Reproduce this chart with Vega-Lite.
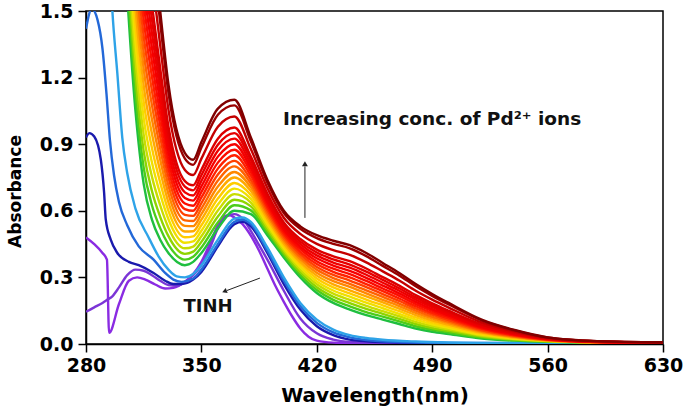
{
"$schema": "https://vega.github.io/schema/vega-lite/v6.json",
"width": 577, "height": 333,
"autosize": {"type": "none"},
"padding": {"left": 86, "top": 11, "right": 22, "bottom": 68},
"background": "white",
"config": {
 "view": {"stroke": "black", "strokeWidth": 1.5},
 "axis": {"grid": false, "domainColor": "black", "domainWidth": 1.5, "tickColor": "black", "tickWidth": 1.5, "tickSize": 8, "labelFlush": false, "labelOverlap": false,
  "labelFont": "DejaVu Sans", "labelFontWeight": "bold", "labelFontSize": 19, "labelColor": "black",
  "titleFont": "DejaVu Sans", "titleFontWeight": "bold", "titleColor": "black"}
},
"encoding": {
 "x": {"field": "x", "type": "quantitative", "scale": {"domain": [280, 630], "nice": false, "zero": false},
  "axis": {"title": "Wavelength(nm)", "values": [280, 350, 420, 490, 560, 630], "format": "d", "labelPadding": 4, "titleFontSize": 20, "titlePadding": 10}},
 "y": {"field": "y", "type": "quantitative", "scale": {"domain": [0, 1.5], "nice": false},
  "axis": {"title": "Absorbance", "values": [0, 0.3, 0.6, 0.9, 1.2, 1.5], "format": ".1f", "labelPadding": 5, "titleFontSize": 17, "titleX": -71, "titleY": 180, "titleAngle": 270, "titleAlign": "center", "titleBaseline": "middle"}}
},
"layer": [
{
 "data": {"values": [
{"s":"a1","x":280,"y":0.48},{"s":"a1","x":285,"y":0.45},{"s":"a1","x":290,"y":0.41},{"s":"a1","x":292.7,"y":0.38},{"s":"a1","x":294,"y":0.05},{"s":"a1","x":300,"y":0.18},{"s":"a1","x":306,"y":0.285},{"s":"a1","x":311,"y":0.3},{"s":"a1","x":316,"y":0.29},{"s":"a1","x":322,"y":0.268},{"s":"a1","x":328,"y":0.25},{"s":"a1","x":333,"y":0.253},{"s":"a1","x":340,"y":0.28},{"s":"a1","x":345,"y":0.315},{"s":"a1","x":350,"y":0.37},{"s":"a1","x":355,"y":0.45},{"s":"a1","x":360,"y":0.535},{"s":"a1","x":364,"y":0.575},{"s":"a1","x":367,"y":0.58},{"s":"a1","x":370,"y":0.57},{"s":"a1","x":375,"y":0.54},{"s":"a1","x":379,"y":0.5},{"s":"a1","x":385,"y":0.42},{"s":"a1","x":390,"y":0.34},{"s":"a1","x":395,"y":0.26},{"s":"a1","x":400,"y":0.19},{"s":"a1","x":405,"y":0.125},{"s":"a1","x":410,"y":0.07},{"s":"a1","x":415,"y":0.033},{"s":"a1","x":420,"y":0.015},{"s":"a1","x":430,"y":0.006},{"s":"a1","x":450,"y":0.003},{"s":"a1","x":630,"y":0.002},
{"s":"a2","x":280,"y":0.145},{"s":"a2","x":285,"y":0.165},{"s":"a2","x":290,"y":0.185},{"s":"a2","x":293,"y":0.2},{"s":"a2","x":296,"y":0.215},{"s":"a2","x":300,"y":0.255},{"s":"a2","x":305,"y":0.31},{"s":"a2","x":310,"y":0.335},{"s":"a2","x":315,"y":0.33},{"s":"a2","x":320,"y":0.31},{"s":"a2","x":325,"y":0.285},{"s":"a2","x":330,"y":0.265},{"s":"a2","x":335,"y":0.262},{"s":"a2","x":340,"y":0.28},{"s":"a2","x":345,"y":0.31},{"s":"a2","x":350,"y":0.355},{"s":"a2","x":355,"y":0.43},{"s":"a2","x":360,"y":0.52},{"s":"a2","x":365,"y":0.575},{"s":"a2","x":370,"y":0.585},{"s":"a2","x":375,"y":0.565},{"s":"a2","x":380,"y":0.51},{"s":"a2","x":385,"y":0.445},{"s":"a2","x":390,"y":0.38},{"s":"a2","x":400,"y":0.24},{"s":"a2","x":410,"y":0.115},{"s":"a2","x":420,"y":0.048},{"s":"a2","x":430,"y":0.02},{"s":"a2","x":440,"y":0.009},{"s":"a2","x":460,"y":0.004},{"s":"a2","x":630,"y":0.002},
{"s":"a3","x":280,"y":0.93},{"s":"a3","x":282,"y":0.95},{"s":"a3","x":285,"y":0.935},{"s":"a3","x":289,"y":0.83},{"s":"a3","x":291,"y":0.68},{"s":"a3","x":292,"y":0.56},{"s":"a3","x":295,"y":0.47},{"s":"a3","x":299,"y":0.41},{"s":"a3","x":306,"y":0.37},{"s":"a3","x":312,"y":0.355},{"s":"a3","x":321,"y":0.32},{"s":"a3","x":328,"y":0.285},{"s":"a3","x":333,"y":0.27},{"s":"a3","x":338,"y":0.27},{"s":"a3","x":345,"y":0.29},{"s":"a3","x":350,"y":0.325},{"s":"a3","x":360,"y":0.44},{"s":"a3","x":370,"y":0.54},{"s":"a3","x":375,"y":0.55},{"s":"a3","x":380,"y":0.53},{"s":"a3","x":390,"y":0.41},{"s":"a3","x":400,"y":0.27},{"s":"a3","x":410,"y":0.155},{"s":"a3","x":420,"y":0.08},{"s":"a3","x":430,"y":0.04},{"s":"a3","x":440,"y":0.02},{"s":"a3","x":450,"y":0.012},{"s":"a3","x":470,"y":0.006},{"s":"a3","x":500,"y":0.004},{"s":"a3","x":630,"y":0.002},
{"s":"a4","x":280,"y":1.42},{"s":"a4","x":283.5,"y":1.51},{"s":"a4","x":287,"y":1.46},{"s":"a4","x":290,"y":1.33},{"s":"a4","x":292.5,"y":1.12},{"s":"a4","x":294.5,"y":0.92},{"s":"a4","x":297,"y":0.76},{"s":"a4","x":300,"y":0.64},{"s":"a4","x":305,"y":0.535},{"s":"a4","x":312,"y":0.44},{"s":"a4","x":321,"y":0.38},{"s":"a4","x":328,"y":0.32},{"s":"a4","x":333,"y":0.29},{"s":"a4","x":338,"y":0.28},{"s":"a4","x":345,"y":0.295},{"s":"a4","x":350,"y":0.335},{"s":"a4","x":360,"y":0.45},{"s":"a4","x":370,"y":0.55},{"s":"a4","x":375,"y":0.56},{"s":"a4","x":380,"y":0.54},{"s":"a4","x":390,"y":0.42},{"s":"a4","x":400,"y":0.285},{"s":"a4","x":410,"y":0.17},{"s":"a4","x":420,"y":0.095},{"s":"a4","x":430,"y":0.052},{"s":"a4","x":440,"y":0.03},{"s":"a4","x":450,"y":0.018},{"s":"a4","x":470,"y":0.009},{"s":"a4","x":500,"y":0.005},{"s":"a4","x":630,"y":0.003},
{"s":"a5","x":290,"y":2.6},{"s":"a5","x":296,"y":1.5},{"s":"a5","x":299,"y":1.22},{"s":"a5","x":302,"y":0.93},{"s":"a5","x":305,"y":0.77},{"s":"a5","x":310,"y":0.61},{"s":"a5","x":318,"y":0.48},{"s":"a5","x":324,"y":0.395},{"s":"a5","x":330,"y":0.335},{"s":"a5","x":335,"y":0.305},{"s":"a5","x":340,"y":0.3},{"s":"a5","x":345,"y":0.315},{"s":"a5","x":350,"y":0.355},{"s":"a5","x":360,"y":0.47},{"s":"a5","x":370,"y":0.565},{"s":"a5","x":375,"y":0.57},{"s":"a5","x":380,"y":0.55},{"s":"a5","x":390,"y":0.435},{"s":"a5","x":400,"y":0.3},{"s":"a5","x":410,"y":0.185},{"s":"a5","x":420,"y":0.11},{"s":"a5","x":430,"y":0.065},{"s":"a5","x":440,"y":0.04},{"s":"a5","x":450,"y":0.027},{"s":"a5","x":460,"y":0.019},{"s":"a5","x":480,"y":0.011},{"s":"a5","x":500,"y":0.007},{"s":"a5","x":540,"y":0.004},{"s":"a5","x":630,"y":0.003},
{"s":"f00","x":300,"y":2.2},{"s":"f00","x":310,"y":1.05},{"s":"f00","x":315,"y":0.72},{"s":"f00","x":320,"y":0.56},{"s":"f00","x":325,"y":0.47},{"s":"f00","x":330,"y":0.41},{"s":"f00","x":340,"y":0.355},{"s":"f00","x":345,"y":0.37},{"s":"f00","x":350,"y":0.41},{"s":"f00","x":360,"y":0.52},{"s":"f00","x":370,"y":0.6},{"s":"f00","x":380,"y":0.585},{"s":"f00","x":390,"y":0.49},{"s":"f00","x":400,"y":0.39},{"s":"f00","x":410,"y":0.3},{"s":"f00","x":420,"y":0.23},{"s":"f00","x":430,"y":0.185},{"s":"f00","x":440,"y":0.155},{"s":"f00","x":450,"y":0.13},{"s":"f00","x":460,"y":0.11},{"s":"f00","x":470,"y":0.09},{"s":"f00","x":480,"y":0.07},{"s":"f00","x":490,"y":0.055},{"s":"f00","x":500,"y":0.045},{"s":"f00","x":520,"y":0.025},{"s":"f00","x":540,"y":0.015},{"s":"f00","x":560,"y":0.01},{"s":"f00","x":590,"y":0.006},{"s":"f00","x":630,"y":0.005},
{"s":"f01","x":300,"y":2.29},{"s":"f01","x":310,"y":1.128},{"s":"f01","x":315,"y":0.794},{"s":"f01","x":320,"y":0.625},{"s":"f01","x":325,"y":0.522},{"s":"f01","x":330,"y":0.448},{"s":"f01","x":340,"y":0.38},{"s":"f01","x":345,"y":0.393},{"s":"f01","x":350,"y":0.435},{"s":"f01","x":360,"y":0.547},{"s":"f01","x":370,"y":0.625},{"s":"f01","x":380,"y":0.602},{"s":"f01","x":390,"y":0.503},{"s":"f01","x":400,"y":0.401},{"s":"f01","x":410,"y":0.312},{"s":"f01","x":420,"y":0.243},{"s":"f01","x":430,"y":0.199},{"s":"f01","x":440,"y":0.17},{"s":"f01","x":450,"y":0.144},{"s":"f01","x":460,"y":0.123},{"s":"f01","x":470,"y":0.102},{"s":"f01","x":480,"y":0.08},{"s":"f01","x":490,"y":0.064},{"s":"f01","x":500,"y":0.052},{"s":"f01","x":520,"y":0.029},{"s":"f01","x":540,"y":0.017},{"s":"f01","x":560,"y":0.011},{"s":"f01","x":590,"y":0.007},{"s":"f01","x":630,"y":0.005},
{"s":"f02","x":300,"y":2.38},{"s":"f02","x":310,"y":1.205},{"s":"f02","x":315,"y":0.868},{"s":"f02","x":320,"y":0.689},{"s":"f02","x":325,"y":0.573},{"s":"f02","x":330,"y":0.486},{"s":"f02","x":340,"y":0.406},{"s":"f02","x":345,"y":0.416},{"s":"f02","x":350,"y":0.46},{"s":"f02","x":360,"y":0.574},{"s":"f02","x":370,"y":0.65},{"s":"f02","x":380,"y":0.62},{"s":"f02","x":390,"y":0.515},{"s":"f02","x":400,"y":0.411},{"s":"f02","x":410,"y":0.323},{"s":"f02","x":420,"y":0.256},{"s":"f02","x":430,"y":0.213},{"s":"f02","x":440,"y":0.184},{"s":"f02","x":450,"y":0.158},{"s":"f02","x":460,"y":0.136},{"s":"f02","x":470,"y":0.113},{"s":"f02","x":480,"y":0.09},{"s":"f02","x":490,"y":0.072},{"s":"f02","x":500,"y":0.059},{"s":"f02","x":520,"y":0.034},{"s":"f02","x":540,"y":0.02},{"s":"f02","x":560,"y":0.012},{"s":"f02","x":590,"y":0.007},{"s":"f02","x":630,"y":0.005},
{"s":"f03","x":300,"y":2.47},{"s":"f03","x":310,"y":1.283},{"s":"f03","x":315,"y":0.942},{"s":"f03","x":320,"y":0.754},{"s":"f03","x":325,"y":0.625},{"s":"f03","x":330,"y":0.524},{"s":"f03","x":340,"y":0.431},{"s":"f03","x":345,"y":0.439},{"s":"f03","x":350,"y":0.485},{"s":"f03","x":360,"y":0.601},{"s":"f03","x":370,"y":0.675},{"s":"f03","x":380,"y":0.637},{"s":"f03","x":390,"y":0.528},{"s":"f03","x":400,"y":0.422},{"s":"f03","x":410,"y":0.335},{"s":"f03","x":420,"y":0.269},{"s":"f03","x":430,"y":0.227},{"s":"f03","x":440,"y":0.199},{"s":"f03","x":450,"y":0.172},{"s":"f03","x":460,"y":0.148},{"s":"f03","x":470,"y":0.125},{"s":"f03","x":480,"y":0.1},{"s":"f03","x":490,"y":0.081},{"s":"f03","x":500,"y":0.066},{"s":"f03","x":520,"y":0.038},{"s":"f03","x":540,"y":0.022},{"s":"f03","x":560,"y":0.013},{"s":"f03","x":590,"y":0.007},{"s":"f03","x":630,"y":0.005},
{"s":"f04","x":300,"y":2.56},{"s":"f04","x":310,"y":1.36},{"s":"f04","x":315,"y":1.016},{"s":"f04","x":320,"y":0.818},{"s":"f04","x":325,"y":0.676},{"s":"f04","x":330,"y":0.562},{"s":"f04","x":340,"y":0.456},{"s":"f04","x":345,"y":0.462},{"s":"f04","x":350,"y":0.51},{"s":"f04","x":360,"y":0.628},{"s":"f04","x":370,"y":0.7},{"s":"f04","x":380,"y":0.654},{"s":"f04","x":390,"y":0.54},{"s":"f04","x":400,"y":0.432},{"s":"f04","x":410,"y":0.346},{"s":"f04","x":420,"y":0.282},{"s":"f04","x":430,"y":0.241},{"s":"f04","x":440,"y":0.213},{"s":"f04","x":450,"y":0.186},{"s":"f04","x":460,"y":0.161},{"s":"f04","x":470,"y":0.136},{"s":"f04","x":480,"y":0.11},{"s":"f04","x":490,"y":0.089},{"s":"f04","x":500,"y":0.073},{"s":"f04","x":520,"y":0.042},{"s":"f04","x":540,"y":0.025},{"s":"f04","x":560,"y":0.014},{"s":"f04","x":590,"y":0.007},{"s":"f04","x":630,"y":0.005},
{"s":"f05","x":300,"y":2.65},{"s":"f05","x":310,"y":1.438},{"s":"f05","x":315,"y":1.09},{"s":"f05","x":320,"y":0.883},{"s":"f05","x":325,"y":0.728},{"s":"f05","x":330,"y":0.6},{"s":"f05","x":340,"y":0.481},{"s":"f05","x":345,"y":0.485},{"s":"f05","x":350,"y":0.535},{"s":"f05","x":360,"y":0.655},{"s":"f05","x":370,"y":0.725},{"s":"f05","x":380,"y":0.671},{"s":"f05","x":390,"y":0.553},{"s":"f05","x":400,"y":0.443},{"s":"f05","x":410,"y":0.358},{"s":"f05","x":420,"y":0.295},{"s":"f05","x":430,"y":0.255},{"s":"f05","x":440,"y":0.228},{"s":"f05","x":450,"y":0.2},{"s":"f05","x":460,"y":0.174},{"s":"f05","x":470,"y":0.148},{"s":"f05","x":480,"y":0.12},{"s":"f05","x":490,"y":0.098},{"s":"f05","x":500,"y":0.08},{"s":"f05","x":520,"y":0.046},{"s":"f05","x":540,"y":0.027},{"s":"f05","x":560,"y":0.015},{"s":"f05","x":590,"y":0.008},{"s":"f05","x":630,"y":0.005},
{"s":"f06","x":300,"y":2.74},{"s":"f06","x":310,"y":1.515},{"s":"f06","x":315,"y":1.164},{"s":"f06","x":320,"y":0.947},{"s":"f06","x":325,"y":0.779},{"s":"f06","x":330,"y":0.638},{"s":"f06","x":340,"y":0.507},{"s":"f06","x":345,"y":0.508},{"s":"f06","x":350,"y":0.56},{"s":"f06","x":360,"y":0.682},{"s":"f06","x":370,"y":0.75},{"s":"f06","x":380,"y":0.689},{"s":"f06","x":390,"y":0.565},{"s":"f06","x":400,"y":0.453},{"s":"f06","x":410,"y":0.369},{"s":"f06","x":420,"y":0.308},{"s":"f06","x":430,"y":0.269},{"s":"f06","x":440,"y":0.242},{"s":"f06","x":450,"y":0.214},{"s":"f06","x":460,"y":0.187},{"s":"f06","x":470,"y":0.159},{"s":"f06","x":480,"y":0.13},{"s":"f06","x":490,"y":0.106},{"s":"f06","x":500,"y":0.087},{"s":"f06","x":520,"y":0.051},{"s":"f06","x":540,"y":0.029},{"s":"f06","x":560,"y":0.016},{"s":"f06","x":590,"y":0.008},{"s":"f06","x":630,"y":0.005},
{"s":"f07","x":300,"y":2.83},{"s":"f07","x":310,"y":1.593},{"s":"f07","x":315,"y":1.238},{"s":"f07","x":320,"y":1.012},{"s":"f07","x":325,"y":0.831},{"s":"f07","x":330,"y":0.676},{"s":"f07","x":340,"y":0.532},{"s":"f07","x":345,"y":0.531},{"s":"f07","x":350,"y":0.585},{"s":"f07","x":360,"y":0.709},{"s":"f07","x":370,"y":0.775},{"s":"f07","x":380,"y":0.706},{"s":"f07","x":390,"y":0.578},{"s":"f07","x":400,"y":0.464},{"s":"f07","x":410,"y":0.381},{"s":"f07","x":420,"y":0.321},{"s":"f07","x":430,"y":0.283},{"s":"f07","x":440,"y":0.257},{"s":"f07","x":450,"y":0.228},{"s":"f07","x":460,"y":0.199},{"s":"f07","x":470,"y":0.171},{"s":"f07","x":480,"y":0.14},{"s":"f07","x":490,"y":0.115},{"s":"f07","x":500,"y":0.094},{"s":"f07","x":520,"y":0.055},{"s":"f07","x":540,"y":0.032},{"s":"f07","x":560,"y":0.017},{"s":"f07","x":590,"y":0.008},{"s":"f07","x":630,"y":0.006},
{"s":"f08","x":300,"y":2.92},{"s":"f08","x":310,"y":1.67},{"s":"f08","x":315,"y":1.312},{"s":"f08","x":320,"y":1.076},{"s":"f08","x":325,"y":0.882},{"s":"f08","x":330,"y":0.714},{"s":"f08","x":340,"y":0.557},{"s":"f08","x":345,"y":0.554},{"s":"f08","x":350,"y":0.61},{"s":"f08","x":360,"y":0.736},{"s":"f08","x":370,"y":0.8},{"s":"f08","x":380,"y":0.723},{"s":"f08","x":390,"y":0.59},{"s":"f08","x":400,"y":0.474},{"s":"f08","x":410,"y":0.392},{"s":"f08","x":420,"y":0.334},{"s":"f08","x":430,"y":0.297},{"s":"f08","x":440,"y":0.271},{"s":"f08","x":450,"y":0.242},{"s":"f08","x":460,"y":0.212},{"s":"f08","x":470,"y":0.182},{"s":"f08","x":480,"y":0.15},{"s":"f08","x":490,"y":0.123},{"s":"f08","x":500,"y":0.101},{"s":"f08","x":520,"y":0.059},{"s":"f08","x":540,"y":0.034},{"s":"f08","x":560,"y":0.018},{"s":"f08","x":590,"y":0.008},{"s":"f08","x":630,"y":0.006},
{"s":"f09","x":300,"y":3.01},{"s":"f09","x":310,"y":1.748},{"s":"f09","x":315,"y":1.386},{"s":"f09","x":320,"y":1.141},{"s":"f09","x":325,"y":0.934},{"s":"f09","x":330,"y":0.752},{"s":"f09","x":340,"y":0.582},{"s":"f09","x":345,"y":0.577},{"s":"f09","x":350,"y":0.635},{"s":"f09","x":360,"y":0.763},{"s":"f09","x":370,"y":0.825},{"s":"f09","x":380,"y":0.74},{"s":"f09","x":390,"y":0.603},{"s":"f09","x":400,"y":0.485},{"s":"f09","x":410,"y":0.404},{"s":"f09","x":420,"y":0.347},{"s":"f09","x":430,"y":0.311},{"s":"f09","x":440,"y":0.286},{"s":"f09","x":450,"y":0.256},{"s":"f09","x":460,"y":0.225},{"s":"f09","x":470,"y":0.194},{"s":"f09","x":480,"y":0.16},{"s":"f09","x":490,"y":0.132},{"s":"f09","x":500,"y":0.108},{"s":"f09","x":520,"y":0.063},{"s":"f09","x":540,"y":0.037},{"s":"f09","x":560,"y":0.019},{"s":"f09","x":590,"y":0.009},{"s":"f09","x":630,"y":0.006},
{"s":"f10","x":300,"y":3.1},{"s":"f10","x":310,"y":1.825},{"s":"f10","x":315,"y":1.46},{"s":"f10","x":320,"y":1.205},{"s":"f10","x":325,"y":0.985},{"s":"f10","x":330,"y":0.79},{"s":"f10","x":340,"y":0.608},{"s":"f10","x":345,"y":0.6},{"s":"f10","x":350,"y":0.66},{"s":"f10","x":360,"y":0.79},{"s":"f10","x":370,"y":0.85},{"s":"f10","x":380,"y":0.758},{"s":"f10","x":390,"y":0.615},{"s":"f10","x":400,"y":0.495},{"s":"f10","x":410,"y":0.415},{"s":"f10","x":420,"y":0.36},{"s":"f10","x":430,"y":0.325},{"s":"f10","x":440,"y":0.3},{"s":"f10","x":450,"y":0.27},{"s":"f10","x":460,"y":0.238},{"s":"f10","x":470,"y":0.205},{"s":"f10","x":480,"y":0.17},{"s":"f10","x":490,"y":0.14},{"s":"f10","x":500,"y":0.115},{"s":"f10","x":520,"y":0.068},{"s":"f10","x":540,"y":0.039},{"s":"f10","x":560,"y":0.02},{"s":"f10","x":590,"y":0.009},{"s":"f10","x":630,"y":0.006},
{"s":"f11","x":300,"y":3.19},{"s":"f11","x":310,"y":1.903},{"s":"f11","x":315,"y":1.534},{"s":"f11","x":320,"y":1.27},{"s":"f11","x":325,"y":1.037},{"s":"f11","x":330,"y":0.828},{"s":"f11","x":340,"y":0.633},{"s":"f11","x":345,"y":0.623},{"s":"f11","x":350,"y":0.685},{"s":"f11","x":360,"y":0.817},{"s":"f11","x":370,"y":0.875},{"s":"f11","x":380,"y":0.775},{"s":"f11","x":390,"y":0.628},{"s":"f11","x":400,"y":0.506},{"s":"f11","x":410,"y":0.427},{"s":"f11","x":420,"y":0.373},{"s":"f11","x":430,"y":0.339},{"s":"f11","x":440,"y":0.315},{"s":"f11","x":450,"y":0.284},{"s":"f11","x":460,"y":0.25},{"s":"f11","x":470,"y":0.217},{"s":"f11","x":480,"y":0.18},{"s":"f11","x":490,"y":0.149},{"s":"f11","x":500,"y":0.122},{"s":"f11","x":520,"y":0.072},{"s":"f11","x":540,"y":0.041},{"s":"f11","x":560,"y":0.021},{"s":"f11","x":590,"y":0.009},{"s":"f11","x":630,"y":0.006},
{"s":"f12","x":300,"y":3.28},{"s":"f12","x":310,"y":1.98},{"s":"f12","x":315,"y":1.608},{"s":"f12","x":320,"y":1.334},{"s":"f12","x":325,"y":1.088},{"s":"f12","x":330,"y":0.866},{"s":"f12","x":340,"y":0.658},{"s":"f12","x":345,"y":0.646},{"s":"f12","x":350,"y":0.71},{"s":"f12","x":360,"y":0.844},{"s":"f12","x":370,"y":0.9},{"s":"f12","x":380,"y":0.792},{"s":"f12","x":390,"y":0.64},{"s":"f12","x":400,"y":0.516},{"s":"f12","x":410,"y":0.438},{"s":"f12","x":420,"y":0.386},{"s":"f12","x":430,"y":0.353},{"s":"f12","x":440,"y":0.329},{"s":"f12","x":450,"y":0.298},{"s":"f12","x":460,"y":0.263},{"s":"f12","x":470,"y":0.228},{"s":"f12","x":480,"y":0.19},{"s":"f12","x":490,"y":0.157},{"s":"f12","x":500,"y":0.129},{"s":"f12","x":520,"y":0.076},{"s":"f12","x":540,"y":0.044},{"s":"f12","x":560,"y":0.022},{"s":"f12","x":590,"y":0.01},{"s":"f12","x":630,"y":0.006},
{"s":"f13","x":300,"y":3.37},{"s":"f13","x":310,"y":2.058},{"s":"f13","x":315,"y":1.682},{"s":"f13","x":320,"y":1.399},{"s":"f13","x":325,"y":1.14},{"s":"f13","x":330,"y":0.904},{"s":"f13","x":340,"y":0.683},{"s":"f13","x":345,"y":0.669},{"s":"f13","x":350,"y":0.735},{"s":"f13","x":360,"y":0.871},{"s":"f13","x":370,"y":0.925},{"s":"f13","x":380,"y":0.809},{"s":"f13","x":390,"y":0.653},{"s":"f13","x":400,"y":0.527},{"s":"f13","x":410,"y":0.45},{"s":"f13","x":420,"y":0.399},{"s":"f13","x":430,"y":0.367},{"s":"f13","x":440,"y":0.344},{"s":"f13","x":450,"y":0.312},{"s":"f13","x":460,"y":0.276},{"s":"f13","x":470,"y":0.24},{"s":"f13","x":480,"y":0.2},{"s":"f13","x":490,"y":0.166},{"s":"f13","x":500,"y":0.136},{"s":"f13","x":520,"y":0.08},{"s":"f13","x":540,"y":0.046},{"s":"f13","x":560,"y":0.023},{"s":"f13","x":590,"y":0.01},{"s":"f13","x":630,"y":0.007},
{"s":"f14","x":300,"y":3.46},{"s":"f14","x":310,"y":2.135},{"s":"f14","x":315,"y":1.756},{"s":"f14","x":320,"y":1.463},{"s":"f14","x":325,"y":1.191},{"s":"f14","x":330,"y":0.942},{"s":"f14","x":340,"y":0.709},{"s":"f14","x":345,"y":0.692},{"s":"f14","x":350,"y":0.76},{"s":"f14","x":360,"y":0.898},{"s":"f14","x":370,"y":0.95},{"s":"f14","x":380,"y":0.827},{"s":"f14","x":390,"y":0.665},{"s":"f14","x":400,"y":0.537},{"s":"f14","x":410,"y":0.461},{"s":"f14","x":420,"y":0.412},{"s":"f14","x":430,"y":0.381},{"s":"f14","x":440,"y":0.358},{"s":"f14","x":450,"y":0.326},{"s":"f14","x":460,"y":0.289},{"s":"f14","x":470,"y":0.251},{"s":"f14","x":480,"y":0.21},{"s":"f14","x":490,"y":0.174},{"s":"f14","x":500,"y":0.143},{"s":"f14","x":520,"y":0.085},{"s":"f14","x":540,"y":0.049},{"s":"f14","x":560,"y":0.024},{"s":"f14","x":590,"y":0.01},{"s":"f14","x":630,"y":0.007},
{"s":"f15","x":300,"y":3.55},{"s":"f15","x":310,"y":2.213},{"s":"f15","x":315,"y":1.83},{"s":"f15","x":320,"y":1.528},{"s":"f15","x":325,"y":1.243},{"s":"f15","x":330,"y":0.98},{"s":"f15","x":340,"y":0.734},{"s":"f15","x":345,"y":0.715},{"s":"f15","x":350,"y":0.785},{"s":"f15","x":360,"y":0.925},{"s":"f15","x":370,"y":0.975},{"s":"f15","x":380,"y":0.844},{"s":"f15","x":390,"y":0.678},{"s":"f15","x":400,"y":0.548},{"s":"f15","x":410,"y":0.473},{"s":"f15","x":420,"y":0.425},{"s":"f15","x":430,"y":0.395},{"s":"f15","x":440,"y":0.373},{"s":"f15","x":450,"y":0.34},{"s":"f15","x":460,"y":0.301},{"s":"f15","x":470,"y":0.263},{"s":"f15","x":480,"y":0.22},{"s":"f15","x":490,"y":0.183},{"s":"f15","x":500,"y":0.15},{"s":"f15","x":520,"y":0.089},{"s":"f15","x":540,"y":0.051},{"s":"f15","x":560,"y":0.025},{"s":"f15","x":590,"y":0.011},{"s":"f15","x":630,"y":0.007},
{"s":"f16","x":300,"y":3.73},{"s":"f16","x":310,"y":2.368},{"s":"f16","x":315,"y":1.978},{"s":"f16","x":320,"y":1.657},{"s":"f16","x":325,"y":1.346},{"s":"f16","x":330,"y":1.056},{"s":"f16","x":340,"y":0.784},{"s":"f16","x":345,"y":0.761},{"s":"f16","x":350,"y":0.835},{"s":"f16","x":360,"y":0.979},{"s":"f16","x":370,"y":1.025},{"s":"f16","x":380,"y":0.878},{"s":"f16","x":390,"y":0.703},{"s":"f16","x":400,"y":0.569},{"s":"f16","x":410,"y":0.496},{"s":"f16","x":420,"y":0.451},{"s":"f16","x":430,"y":0.423},{"s":"f16","x":440,"y":0.402},{"s":"f16","x":450,"y":0.368},{"s":"f16","x":460,"y":0.327},{"s":"f16","x":470,"y":0.286},{"s":"f16","x":480,"y":0.24},{"s":"f16","x":490,"y":0.2},{"s":"f16","x":500,"y":0.164},{"s":"f16","x":520,"y":0.097},{"s":"f16","x":540,"y":0.056},{"s":"f16","x":560,"y":0.027},{"s":"f16","x":590,"y":0.012},{"s":"f16","x":630,"y":0.007},
{"s":"f17","x":300,"y":3.91},{"s":"f17","x":310,"y":2.523},{"s":"f17","x":315,"y":2.126},{"s":"f17","x":320,"y":1.786},{"s":"f17","x":325,"y":1.449},{"s":"f17","x":330,"y":1.132},{"s":"f17","x":340,"y":0.835},{"s":"f17","x":345,"y":0.807},{"s":"f17","x":350,"y":0.885},{"s":"f17","x":360,"y":1.033},{"s":"f17","x":370,"y":1.075},{"s":"f17","x":380,"y":0.913},{"s":"f17","x":390,"y":0.728},{"s":"f17","x":400,"y":0.59},{"s":"f17","x":410,"y":0.519},{"s":"f17","x":420,"y":0.477},{"s":"f17","x":430,"y":0.451},{"s":"f17","x":440,"y":0.431},{"s":"f17","x":450,"y":0.396},{"s":"f17","x":460,"y":0.352},{"s":"f17","x":470,"y":0.309},{"s":"f17","x":480,"y":0.26},{"s":"f17","x":490,"y":0.217},{"s":"f17","x":500,"y":0.178},{"s":"f17","x":520,"y":0.106},{"s":"f17","x":540,"y":0.061},{"s":"f17","x":560,"y":0.029},{"s":"f17","x":590,"y":0.013},{"s":"f17","x":630,"y":0.008},
{"s":"f18","x":300,"y":4.0},{"s":"f18","x":310,"y":2.6},{"s":"f18","x":315,"y":2.2},{"s":"f18","x":320,"y":1.85},{"s":"f18","x":325,"y":1.5},{"s":"f18","x":330,"y":1.17},{"s":"f18","x":340,"y":0.86},{"s":"f18","x":345,"y":0.83},{"s":"f18","x":350,"y":0.91},{"s":"f18","x":360,"y":1.06},{"s":"f18","x":370,"y":1.1},{"s":"f18","x":380,"y":0.93},{"s":"f18","x":390,"y":0.74},{"s":"f18","x":400,"y":0.6},{"s":"f18","x":410,"y":0.53},{"s":"f18","x":420,"y":0.49},{"s":"f18","x":430,"y":0.465},{"s":"f18","x":440,"y":0.445},{"s":"f18","x":450,"y":0.41},{"s":"f18","x":460,"y":0.365},{"s":"f18","x":470,"y":0.32},{"s":"f18","x":480,"y":0.27},{"s":"f18","x":490,"y":0.225},{"s":"f18","x":500,"y":0.185},{"s":"f18","x":520,"y":0.11},{"s":"f18","x":540,"y":0.063},{"s":"f18","x":560,"y":0.03},{"s":"f18","x":590,"y":0.013},{"s":"f18","x":630,"y":0.008}
 ]},
 "mark": {"type": "line", "interpolate": "monotone", "strokeWidth": 2.4, "clip": true},
 "encoding": {
  "color": {"field": "s", "type": "nominal", "legend": null,
   "scale": {"domain": ["a1","a2","a3","a4","a5","f00","f01","f02","f03","f04","f05","f06","f07","f08","f09","f10","f11","f12","f13","f14","f15","f16","f17","f18"],
    "range": ["#8a2be2","#7b35d6","#1a1aad","#2368d8","#2ea3e8","#1fbf3f","#4ccc1a","#8fd400","#c8dc00","#f0e000","#ffcc00","#ffaa00","#ff8800","#ff6400","#ff4000","#ff2000","#fb0d00","#f50000","#ee0000","#e60000","#dc0000","#c40000","#9a0000","#800000"]}}
 }
},
{
 "data": {"values": [{"x": 399.5, "y": 1.013, "label": "Increasing conc. of Pd²⁺ ions"}]},
 "mark": {"type": "text", "align": "left", "baseline": "middle", "font": "DejaVu Sans", "fontWeight": "bold", "fontSize": 18.5, "color": "#111111"},
 "encoding": {"text": {"field": "label"}}
},
{
 "data": {"values": [{"x": 354, "y": 0.167, "label": "TINH"}]},
 "mark": {"type": "text", "align": "center", "baseline": "middle", "font": "DejaVu Sans", "fontWeight": "bold", "fontSize": 18, "color": "#111111"},
 "encoding": {"text": {"field": "label"}}
},
{
 "data": {"values": [{"x": 412.8, "y": 0.568, "x2": 412.8, "y2": 0.8}, {"x": 385.5, "y": 0.297, "x2": 365.5, "y2": 0.241}]},
 "mark": {"type": "rule", "color": "#222222", "strokeWidth": 1},
 "encoding": {"x2": {"field": "x2"}, "y2": {"field": "y2"}}
},
{
 "data": {"values": [{"x": 412.8, "y": 0.812}]},
 "mark": {"type": "point", "shape": "triangle-up", "filled": true, "size": 35, "color": "#222222", "opacity": 1},
 "encoding": {}
},
{
 "data": {"values": [{"x": 364, "y": 0.237}]},
 "mark": {"type": "point", "shape": "triangle-left", "filled": true, "size": 30, "color": "#222222", "opacity": 1, "angle": -21},
 "encoding": {}
}
]
}
